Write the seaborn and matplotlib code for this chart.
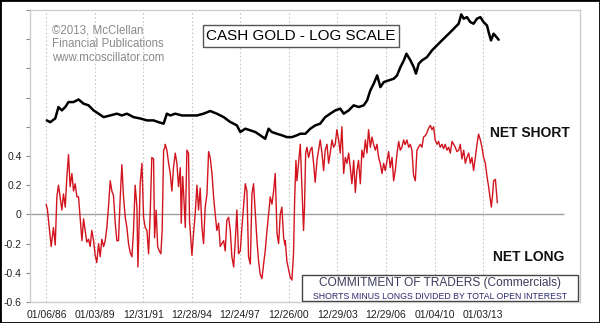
import numpy as np
import pandas as pd
import matplotlib
matplotlib.use("Agg")
import matplotlib.pyplot as plt
from matplotlib.patches import Rectangle
import seaborn as sns

# ---------------- data ----------------
tick_labels = ["01/06/86", "01/03/89", "12/31/91", "12/28/94", "12/24/97",
               "12/26/00", "12/29/03", "12/29/06", "01/04/10", "01/03/13"]

cot_year = [
    1986.00, 1986.08, 1986.21, 1986.31, 1986.45, 1986.56, 1986.66, 1986.76, 1986.87, 1986.97,
    1987.07, 1987.18, 1987.28, 1987.38, 1987.48, 1987.59, 1987.69, 1987.79, 1987.90, 1988.00,
    1988.10, 1988.21, 1988.31, 1988.41, 1988.51, 1988.62, 1988.72, 1988.82, 1988.93, 1989.03,
    1989.13, 1989.24, 1989.34, 1989.44, 1989.55, 1989.65, 1989.75, 1989.85, 1989.96, 1990.06,
    1990.16, 1990.27, 1990.37, 1990.47, 1990.58, 1990.68, 1990.78, 1990.89, 1990.99, 1991.09,
    1991.19, 1991.30, 1991.40, 1991.50, 1991.61, 1991.67, 1991.75, 1991.81, 1991.92, 1992.02,
    1992.12, 1992.23, 1992.33, 1992.43, 1992.53, 1992.64, 1992.70, 1992.80, 1992.89, 1992.99,
    1993.09, 1993.17, 1993.26, 1993.34,
    1993.36, 1993.46, 1993.57, 1993.67, 1993.77, 1993.87, 1993.98, 1994.08, 1994.18, 1994.29,
    1994.35, 1994.43, 1994.49, 1994.60, 1994.70, 1994.80, 1994.86, 1994.95, 1995.01, 1995.11,
    1995.21, 1995.32, 1995.42, 1995.52, 1995.63, 1995.73, 1995.83, 1995.94, 1996.04, 1996.14,
    1996.25, 1996.35, 1996.45, 1996.55, 1996.66, 1996.76, 1996.86, 1996.97, 1997.07, 1997.17,
    1997.28, 1997.38, 1997.48, 1997.59, 1997.69, 1997.79, 1997.89, 1998.00, 1998.10, 1998.20,
    1998.31, 1998.41, 1998.51, 1998.62, 1998.72, 1998.82, 1998.93, 1999.03, 1999.13, 1999.23,
    1999.34, 1999.44, 1999.54, 1999.65, 1999.75, 1999.85, 1999.96, 2000.06, 2000.16, 2000.27,
    2000.37, 2000.47, 2000.57, 2000.68, 2000.76,
    2000.78, 2000.88, 2000.99, 2001.09, 2001.19, 2001.29, 2001.36, 2001.44, 2001.50, 2001.60,
    2001.71, 2001.81, 2001.91, 2001.97, 2002.04, 2002.12, 2002.22, 2002.33, 2002.43, 2002.53,
    2002.63, 2002.74, 2002.84, 2002.94, 2003.05, 2003.15, 2003.25, 2003.36, 2003.46, 2003.56,
    2003.67, 2003.77, 2003.87, 2003.97, 2004.08, 2004.18, 2004.28, 2004.39, 2004.49, 2004.59,
    2004.70, 2004.80, 2004.90, 2005.01, 2005.11, 2005.21, 2005.31, 2005.42, 2005.52, 2005.62,
    2005.73, 2005.83, 2005.93, 2006.04, 2006.14, 2006.24, 2006.35, 2006.45, 2006.55, 2006.65,
    2006.76, 2006.86, 2006.96, 2007.07, 2007.17, 2007.27, 2007.38, 2007.48, 2007.58, 2007.69,
    2007.79, 2007.89, 2007.99, 2008.10, 2008.18,
    2008.20, 2008.30, 2008.41, 2008.51, 2008.61, 2008.71, 2008.82, 2008.92, 2009.02, 2009.13,
    2009.23, 2009.33, 2009.44, 2009.54, 2009.64, 2009.75, 2009.85, 2009.95, 2010.05, 2010.16,
    2010.26, 2010.36, 2010.47, 2010.57, 2010.67, 2010.78, 2010.88, 2010.98, 2011.09, 2011.19,
    2011.29, 2011.39, 2011.50, 2011.60, 2011.70, 2011.81, 2011.91, 2012.01, 2012.12, 2012.22,
    2012.32, 2012.42, 2012.53, 2012.63, 2012.73, 2012.84, 2012.94, 2013.04, 2013.15, 2013.25,
    2013.35, 2013.46, 2013.52, 2013.60, 2013.66, 2013.77, 2013.83, 2013.89,
]

cot_value = [
    0.07, 0.03, -0.11, -0.22, -0.09, -0.21, 0.12, 0.20, 0.11, 0.03,
    0.14, 0.05, 0.26, 0.41, 0.19, 0.28, 0.16, 0.21, 0.12, 0.12,
    -0.02, -0.18, -0.03, -0.11, -0.19, -0.17, -0.22, -0.11, -0.18, -0.28,
    -0.33, -0.20, -0.29, -0.17, -0.22, -0.18, -0.09, 0.05, 0.23, 0.16,
    0.13, -0.06, -0.18, -0.18, 0.12, 0.34, 0.12, -0.02, -0.09, -0.20,
    -0.26, -0.29, -0.11, 0.20, 0.05, -0.36, -0.06, 0.21, 0.35, -0.02,
    -0.09, -0.11, -0.27, 0.00, 0.39, 0.38, -0.16, 0.03, -0.22, -0.25,
    -0.27, -0.11, 0.44, 0.46,
    0.48, 0.44, 0.35, 0.28, 0.16, 0.32, 0.42, 0.35, 0.19, 0.32,
    -0.06, 0.26, 0.16, -0.09, 0.44, 0.42, -0.04, -0.18, -0.28, -0.13,
    0.00, 0.20, 0.03, 0.18, -0.09, -0.20, 0.05, 0.14, 0.43, 0.39,
    0.28, 0.12, 0.00, -0.11, -0.06, -0.22, -0.20, -0.18, -0.25, -0.04,
    -0.02, -0.11, -0.29, -0.36, -0.18, 0.03, -0.27, -0.25, -0.09, 0.05,
    0.21, 0.16, -0.29, -0.34, 0.14, 0.21, 0.00, -0.18, -0.32, -0.41,
    -0.44, -0.34, -0.25, -0.11, 0.00, 0.12, 0.07, 0.16, 0.28, -0.13,
    -0.20, 0.00, 0.05, -0.16, -0.21,
    -0.18, -0.32, -0.38, -0.43, -0.45, -0.27, 0.10, 0.37, 0.23, 0.35,
    0.48, 0.19, -0.11, 0.05, 0.42, 0.46, 0.39, 0.44, 0.46, 0.35,
    0.22, 0.37, 0.44, 0.51, 0.42, 0.30, 0.44, 0.48, 0.35, 0.42,
    0.51, 0.46, 0.48, 0.58, 0.51, 0.42, 0.60, 0.28, 0.39, 0.35,
    0.42, 0.32, 0.21, 0.37, 0.15, 0.30, 0.37, 0.21, 0.44, 0.39,
    0.51, 0.42, 0.58, 0.46, 0.53, 0.48, 0.44, 0.48, 0.39, 0.35,
    0.28, 0.35, 0.30, 0.37, 0.43, 0.32, 0.39, 0.23, 0.30, 0.42,
    0.50, 0.44, 0.46, 0.51, 0.48,
    0.48, 0.51, 0.46, 0.48, 0.44, 0.27, 0.23, 0.44, 0.46, 0.48,
    0.46, 0.53, 0.54, 0.56, 0.59, 0.61, 0.58, 0.60, 0.51, 0.48,
    0.50, 0.46, 0.48, 0.45, 0.48, 0.44, 0.46, 0.42, 0.50, 0.48,
    0.46, 0.43, 0.44, 0.48, 0.38, 0.44, 0.35, 0.39, 0.42, 0.35,
    0.39, 0.30, 0.39, 0.48, 0.55, 0.51, 0.46, 0.39, 0.35, 0.26,
    0.19, 0.10, 0.05, 0.14, 0.23, 0.24, 0.16, 0.08,
]

gold_year = [
    1986.04, 1986.25, 1986.56, 1986.76, 1986.97, 1987.18, 1987.38, 1987.69, 1988.00, 1988.31,
    1988.62, 1988.93, 1989.24, 1989.55, 1989.96, 1990.37, 1990.68, 1990.99, 1991.40, 1991.81,
    1992.23, 1992.64, 1992.95, 1993.26, 1993.46, 1993.67, 1993.98, 1994.39, 1994.80, 1995.32,
    1995.73, 1996.14, 1996.55, 1996.97, 1997.38, 1997.79, 1998.00, 1998.31, 1998.62, 1998.93,
    1999.23, 1999.54, 1999.75, 1999.95, 2000.26, 2000.57, 2000.88, 2001.19, 2001.50, 2001.71,
    2002.02, 2002.33, 2002.64, 2002.94, 2003.25, 2003.56, 2003.87, 2004.18, 2004.39, 2004.70,
    2005.01, 2005.32, 2005.63, 2005.84, 2006.04, 2006.25, 2006.46, 2006.66, 2006.87, 2007.18,
    2007.49, 2007.69, 2007.90, 2008.11, 2008.27, 2008.52, 2008.72, 2008.86, 2009.03, 2009.23,
    2009.54, 2009.85, 2010.05, 2010.36, 2010.67, 2010.99, 2011.29, 2011.50, 2011.66, 2011.81,
    2012.01, 2012.22, 2012.42, 2012.63, 2012.84, 2013.04, 2013.25, 2013.35, 2013.50, 2013.66,
    2013.87, 2013.97,
]

gold_price = [
    358, 348, 369, 442, 419, 442, 478, 478, 498, 466,
    454, 419, 398, 377, 387, 398, 387, 398, 377, 369,
    358, 358, 348, 340, 398, 387, 398, 387, 387, 387,
    398, 415, 398, 377, 349, 331, 298, 314, 306, 298,
    283, 268, 314, 298, 290, 283, 275, 275, 283, 290,
    290, 314, 331, 340, 377, 398, 419, 431, 398, 419,
    454, 442, 454, 491, 575, 639, 728, 605, 655, 673,
    691, 728, 830, 922, 1025, 922, 830, 748, 875, 922,
    971, 1080, 1137, 1231, 1331, 1441, 1559, 1645, 1905, 1780,
    1825, 1687, 1645, 1780, 1825, 1687, 1601, 1441, 1264, 1405,
    1319, 1278,
]

y_ticks = [-0.6, -0.4, -0.2, 0.0, 0.2, 0.4, 0.6, 0.8, 1.0, 1.2, 1.4]
y_tick_labels = ["-0.6", "-0.4", "-0.2", "0", "0.2", "0.4", "", "", "", "", ""]

# ---------------- style ----------------
sns.set_theme(style="white")
plt.rcParams["font.family"] = ["Liberation Sans", "DejaVu Sans"]

fig = plt.figure(figsize=(6.0, 3.23), dpi=100)
ax = fig.add_axes([30 / 600, 1 - 302 / 323, 550 / 600, 292 / 323])

def to_decimal_year(s):
    d = pd.to_datetime(s, format="%m/%d/%y")
    start = pd.Timestamp(year=d.year, month=1, day=1)
    end = pd.Timestamp(year=d.year + 1, month=1, day=1)
    return d.year + (d - start) / (end - start)

tick_pos = [to_decimal_year(s) for s in tick_labels]

cot_df = pd.DataFrame({"year": cot_year, "cot": cot_value})
gold_df = pd.DataFrame({"year": gold_year, "gold": gold_price})

ax.set_xlim(1985.0, 2019.0)
ax.set_ylim(-0.6, 1.4)

for p in tick_pos:
    ax.axvline(p, color="#c8c8c8", lw=0.8, ls=(0, (1.5, 2.0)), zorder=0)

ax.hlines(0, 1985.0, 2018.0, color="#a0a0a0", lw=1.0, zorder=1)

sns.lineplot(data=cot_df, x="year", y="cot", ax=ax, color="#d2141e", lw=1.0,
             sort=False, zorder=2)

ax2 = ax.twinx()
ax2.set_yscale("log")
ax2.set_ylim(10 ** (1.91 - 0.6), 10 ** (1.91 + 1.4))
sns.lineplot(data=gold_df, x="year", y="gold", ax=ax2, color="black", lw=1.8,
             sort=False, zorder=3)
ax2.set_xlim(1985.0, 2019.0)
ax2.axis("off")

ax.set_xticks(tick_pos)
ax.set_xticklabels(tick_labels, fontsize=7.5, color="#222222")
ax.set_yticks(y_ticks)
ax.set_yticklabels(y_tick_labels, fontsize=7.5, color="#222222")
ax.tick_params(axis="x", length=0, pad=6)
ax.tick_params(axis="y", length=3, width=0.8, color="#888888", pad=3, left=True)
ax.set_xlabel("")
ax.set_ylabel("")
for sp in ax.spines.values():
    sp.set_color("#cccccc")
    sp.set_linewidth(1.0)

# Text annotations
ax.text(0.04, 0.952, "\u00a92013, McClellan\nFinancial Publications\nwww.mcoscillator.com",
        transform=ax.transAxes, ha="left", va="top", fontsize=8.3, color="#8a8a8a",
        linespacing=1.2, zorder=5)

ax.add_patch(Rectangle((0.315, 0.874), 0.356, 0.0746, transform=ax.transAxes,
                       facecolor="white", edgecolor="#555555", lw=1.0, zorder=5))
ax.text(0.493, 0.911, "CASH GOLD - LOG SCALE", transform=ax.transAxes,
        ha="center", va="center", fontsize=11, color="black", zorder=6)

ax.text(0.836, 0.579, "NET SHORT", transform=ax.transAxes, ha="left", va="center",
        fontsize=10, fontweight="bold", color="#111111", zorder=5)
ax.text(0.842, 0.154, "NET LONG", transform=ax.transAxes, ha="left", va="center",
        fontsize=10, fontweight="bold", color="#111111", zorder=5)

ax.add_patch(Rectangle((0.4945, 0.0034), 0.502, 0.089, transform=ax.transAxes,
                       facecolor="white", edgecolor="#444444", lw=1.0, zorder=5))
ax.text(0.745, 0.0642, "COMMITMENT OF TRADERS (Commercials)", transform=ax.transAxes,
        ha="center", va="center", fontsize=8.6, color="#3c3c5c", zorder=6)
ax.text(0.745, 0.0205, "SHORTS MINUS LONGS DIVIDED BY TOTAL OPEN INTEREST",
        transform=ax.transAxes, ha="center", va="center", fontsize=6.3,
        color="#2a2a6a", zorder=6)

fig.add_artist(Rectangle((0, 0), 1, 1, transform=fig.transFigure, fill=False,
                         edgecolor="black", lw=2.0))

fig.savefig("out.png", dpi=100, facecolor="white")
